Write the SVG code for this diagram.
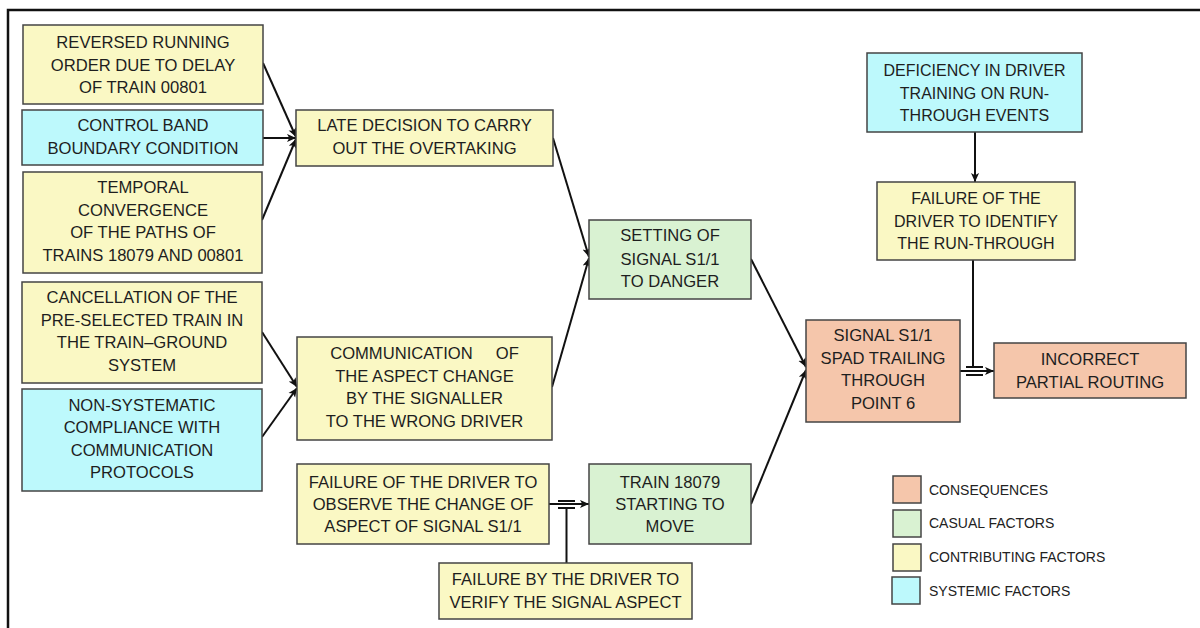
<svg xmlns="http://www.w3.org/2000/svg" width="1200" height="628" viewBox="0 0 1200 628">
<defs>
<marker id="arr" viewBox="0 0 10 10" refX="10" refY="5" markerWidth="9" markerHeight="9" markerUnits="userSpaceOnUse" orient="auto">
<path d="M0,0.5 L10,5 L0,9.5 L2.5,5 z" fill="#111"/>
</marker>
<style>
.box{stroke:#444;stroke-width:1.5}
.y{fill:#FAF8C4}
.c{fill:#BDF9FC}
.g{fill:#D9F2D2}
.s{fill:#F5C6AB}
.t{font-family:"Liberation Sans",Arial,sans-serif;font-size:16.6px;fill:#1e1e1e;text-anchor:middle}
.l{font-family:"Liberation Sans",Arial,sans-serif;font-size:14px;fill:#222}
.ln{stroke:#111;stroke-width:2;fill:none}
.bar{stroke:#111;stroke-width:2;fill:none}
</style>
</defs>
<rect width="1200" height="628" fill="#fff"/>
<path d="M8,628 V10 H1200" stroke="#111" stroke-width="2.5" fill="none"/>

<g id="connectors">
<line class="ln" x1="263" y1="63" x2="296" y2="137" marker-end="url(#arr)"/>
<line class="ln" x1="263" y1="138" x2="296" y2="138" marker-end="url(#arr)"/>
<line class="ln" x1="262" y1="220" x2="296" y2="139" marker-end="url(#arr)"/>
<line class="ln" x1="262" y1="332" x2="297" y2="387" marker-end="url(#arr)"/>
<line class="ln" x1="262" y1="437" x2="297" y2="388" marker-end="url(#arr)"/>
<line class="ln" x1="553" y1="138" x2="589" y2="257" marker-end="url(#arr)"/>
<line class="ln" x1="552" y1="387" x2="589" y2="258" marker-end="url(#arr)"/>
<line class="ln" x1="751" y1="259" x2="806" y2="367" marker-end="url(#arr)"/>
<line class="ln" x1="751" y1="504" x2="806" y2="370" marker-end="url(#arr)"/>
<line class="ln" x1="549" y1="504" x2="589" y2="504" marker-end="url(#arr)"/>
<line class="bar" x1="558" y1="501" x2="575" y2="501"/>
<line class="bar" x1="558" y1="508" x2="575" y2="508"/>
<line class="ln" x1="566.5" y1="508" x2="566.5" y2="563"/>
<line class="ln" x1="975" y1="132" x2="975" y2="182" marker-end="url(#arr)"/>
<line class="ln" x1="973" y1="260" x2="973" y2="367"/>
<line class="ln" x1="960" y1="371" x2="994" y2="371" marker-end="url(#arr)"/>
<line class="bar" x1="966" y1="367" x2="983" y2="367"/>
<line class="bar" x1="966" y1="375" x2="983" y2="375"/>
</g>

<g id="n1">
<rect class="box y" x="23" y="25" width="240" height="79"/>
<text class="t"><tspan x="143" y="48">REVERSED RUNNING</tspan><tspan x="143" y="71">ORDER DUE TO DELAY</tspan><tspan x="143" y="93">OF TRAIN 00801</tspan></text>
</g>
<g id="n2">
<rect class="box c" x="22" y="110" width="241" height="55"/>
<text class="t"><tspan x="143" y="131">CONTROL BAND</tspan><tspan x="143" y="154">BOUNDARY CONDITION</tspan></text>
</g>
<g id="n3">
<rect class="box y" x="23" y="172" width="239" height="101"/>
<text class="t"><tspan x="143" y="193">TEMPORAL</tspan><tspan x="143" y="216">CONVERGENCE</tspan><tspan x="143" y="238">OF THE PATHS OF</tspan><tspan x="143" y="261">TRAINS 18079 AND 00801</tspan></text>
</g>
<g id="n4">
<rect class="box y" x="22" y="282" width="240" height="101"/>
<text class="t"><tspan x="142" y="303">CANCELLATION OF THE</tspan><tspan x="142" y="326">PRE-SELECTED TRAIN IN</tspan><tspan x="142" y="348">THE TRAIN–GROUND</tspan><tspan x="142" y="371">SYSTEM</tspan></text>
</g>
<g id="n5">
<rect class="box c" x="22" y="389" width="240" height="102"/>
<text class="t"><tspan x="142" y="411">NON-SYSTEMATIC</tspan><tspan x="142" y="433">COMPLIANCE WITH</tspan><tspan x="142" y="456">COMMUNICATION</tspan><tspan x="142" y="478">PROTOCOLS</tspan></text>
</g>
<g id="n6">
<rect class="box y" x="296" y="110" width="257" height="56"/>
<text class="t"><tspan x="424.5" y="131">LATE DECISION TO CARRY</tspan><tspan x="424.5" y="154">OUT THE OVERTAKING</tspan></text>
</g>
<g id="n7">
<rect class="box y" x="297" y="337" width="255" height="103"/>
<text class="t" xml:space="preserve"><tspan x="424.5" y="359">COMMUNICATION     OF</tspan><tspan x="424.5" y="382">THE ASPECT CHANGE</tspan><tspan x="424.5" y="404">BY THE SIGNALLER</tspan><tspan x="424.5" y="427">TO THE WRONG DRIVER</tspan></text>
</g>
<g id="n8">
<rect class="box g" x="589" y="220" width="162" height="79"/>
<text class="t"><tspan x="670" y="241">SETTING OF</tspan><tspan x="670" y="265">SIGNAL S1/1</tspan><tspan x="670" y="287">TO DANGER</tspan></text>
</g>
<g id="n9">
<rect class="box s" x="806" y="320" width="154" height="102"/>
<text class="t"><tspan x="883" y="341">SIGNAL S1/1</tspan><tspan x="883" y="364">SPAD TRAILING</tspan><tspan x="883" y="386">THROUGH</tspan><tspan x="883" y="409">POINT 6</tspan></text>
</g>
<g id="n10">
<rect class="box c" x="867" y="53" width="215" height="79"/>
<text class="t" style="font-size:16px"><tspan x="974.5" y="76">DEFICIENCY IN DRIVER</tspan><tspan x="974.5" y="99">TRAINING ON RUN-</tspan><tspan x="974.5" y="121">THROUGH EVENTS</tspan></text>
</g>
<g id="n11">
<rect class="box y" x="877" y="182" width="198" height="78"/>
<text class="t" style="font-size:16px"><tspan x="976" y="204">FAILURE OF THE</tspan><tspan x="976" y="227">DRIVER TO IDENTIFY</tspan><tspan x="976" y="249">THE RUN-THROUGH</tspan></text>
</g>
<g id="n12">
<rect class="box s" x="994" y="343" width="192" height="55"/>
<text class="t"><tspan x="1090" y="365">INCORRECT</tspan><tspan x="1090" y="388">PARTIAL ROUTING</tspan></text>
</g>
<g id="n13">
<rect class="box y" x="297" y="464" width="252" height="80"/>
<text class="t"><tspan x="423" y="488">FAILURE OF THE DRIVER TO</tspan><tspan x="423" y="510">OBSERVE THE CHANGE OF</tspan><tspan x="423" y="532">ASPECT OF SIGNAL S1/1</tspan></text>
</g>
<g id="n14">
<rect class="box g" x="589" y="464" width="162" height="80"/>
<text class="t"><tspan x="670" y="488">TRAIN 18079</tspan><tspan x="670" y="510">STARTING TO</tspan><tspan x="670" y="532">MOVE</tspan></text>
</g>
<g id="n15">
<rect class="box y" x="439" y="563" width="253" height="56"/>
<text class="t"><tspan x="565.5" y="585">FAILURE BY THE DRIVER TO</tspan><tspan x="565.5" y="608">VERIFY THE SIGNAL ASPECT</tspan></text>
</g>

<g id="legend">
<rect class="box s" x="893" y="476" width="28" height="27"/>
<rect class="box g" x="893" y="510" width="28" height="27"/>
<rect class="box y" x="893" y="544" width="28" height="27"/>
<rect class="box c" x="892" y="577" width="28" height="27"/>
<text class="l" x="929" y="495">CONSEQUENCES</text>
<text class="l" x="929" y="528">CASUAL FACTORS</text>
<text class="l" x="929" y="562">CONTRIBUTING FACTORS</text>
<text class="l" x="929" y="596">SYSTEMIC FACTORS</text>
</g>
</svg>
